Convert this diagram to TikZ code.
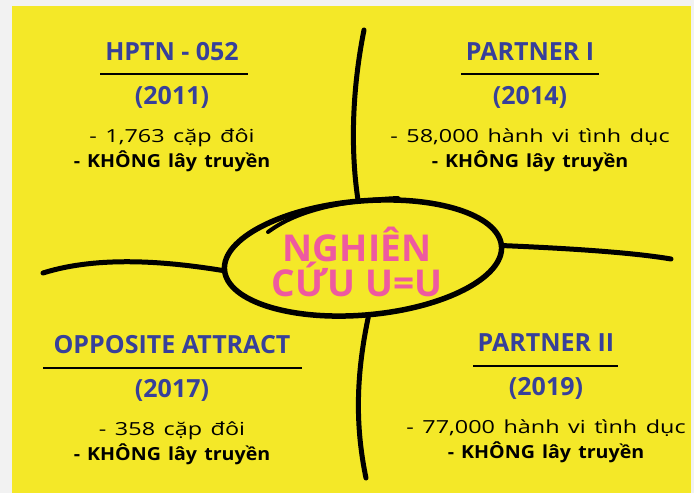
\documentclass[tikz,border=0pt]{standalone}
\usepackage{fontspec}
\setmainfont{Open Sans}
\newfontfamily\bodyfont[FakeStretch=1.3, WordSpace=1.4, BoldFeatures={FakeStretch=1.09}]{Open Sans}
\usetikzlibrary{shapes.geometric}
\definecolor{bgyellow}{HTML}{F4E828}
\definecolor{titleblue}{HTML}{37409A}
\definecolor{hotpink}{HTML}{EE5AA0}

\begin{document}
\begin{tikzpicture}[x=1pt,y=-1pt]
	\tikzstyle{Title} = [font=\bfseries\fontsize{25}{28}\selectfont, text=titleblue, inner sep=0pt]
	\tikzstyle{Year} = [font=\bfseries\fontsize{25}{28}\selectfont, text=titleblue, inner sep=0pt]
	\tikzstyle{Body} = [font=\bodyfont\fontsize{18}{25}\selectfont, align=center, inner sep=0pt]
	\tikzstyle{rule} = [line width=2.2pt, black]
	\tikzstyle{brush} = [line width=5pt, line cap=round, black]
	
	\useasboundingbox (0,0) rectangle (694,493);
	\fill [black!5] (0,0) rectangle (694,493);
	\fill [bgyellow] (12,6) rectangle (691,493);
	
	% four studies
	\node (hptn) [Title] at (172,52) {HPTN - 052};
	\draw [rule] (100,74) -- (248,74);
	\node (y1) [Year] at (172,97) {(2011)};
	\node (b1) [Body] at (172,150) {- 1,763 cặp đôi\\\textbf{- KHÔNG lây truyền}};
	
	\node (p1) [Title] at (530,52) {PARTNER I};
	\draw [rule] (461,74) -- (599,74);
	\node (y2) [Year] at (530,97) {(2014)};
	\node (b2) [Body] at (530,150) {- 58,000 hành vi tình dục\\\textbf{- KHÔNG lây truyền}};
	
	\node (opp) [Title] at (172,345) {OPPOSITE ATTRACT};
	\draw [rule] (43,368) -- (302,368);
	\node (y3) [Year] at (172,390) {(2017)};
	\node (b3) [Body] at (172,443) {- 358 cặp đôi\\\textbf{- KHÔNG lây truyền}};
	
	\node (p2) [Title] at (546,343) {PARTNER II};
	\draw [rule] (473,366) -- (618,366);
	\node (y4) [Year] at (546,388) {(2019)};
	\node (b4) [Body] at (546,441) {- 77,000 hành vi tình dục\\\textbf{- KHÔNG lây truyền}};
	
	% centre
	\node (ring) [ellipse, draw, line width=5.5pt, inner sep=0pt, minimum width=278, minimum height=114, rotate=5] at (363,258) {};
	\node (mid) [font=\bfseries\fontsize{37}{31}\selectfont, text=hotpink, align=center] at (357,262) {NGHIÊN\\CỨU U=U};
	\draw [brush, line width=4pt] (268,232) .. controls (295,212) and (335,201) .. (398,198);
	
	\coordinate (top) at (364,30);
	\coordinate (bot) at (366,478);
	\coordinate (lft) at (43,273);
	\coordinate (rgt) at (671,259);
	\draw [brush] (top) .. controls (350,100) and (352,160) .. (ring.north);
	\draw [brush] (ring.south) .. controls (355,380) and (356,430) .. (bot);
	\draw [brush] (lft) .. controls (100,255) and (170,262) .. (ring.west);
	\draw [brush] (ring.east) .. controls (560,248) and (630,252) .. (rgt);
\end{tikzpicture}
\end{document}
